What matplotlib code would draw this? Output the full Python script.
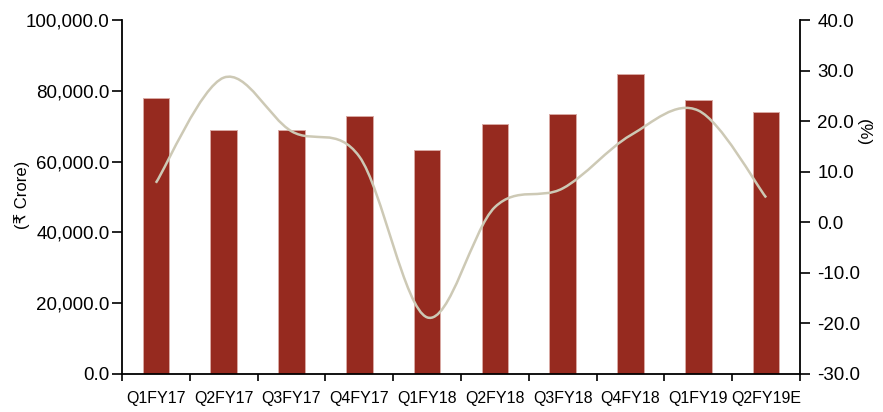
import numpy as np
import matplotlib
matplotlib.use('Agg')
import matplotlib.pyplot as plt
from matplotlib.path import Path
from matplotlib.patches import PathPatch
from matplotlib.ticker import FuncFormatter, FixedLocator

plt.rcParams['font.family'] = ['Liberation Sans Narrow', 'Liberation Sans', 'DejaVu Sans']

quarters = ["Q1FY17", "Q2FY17", "Q3FY17", "Q4FY17", "Q1FY18",
            "Q2FY18", "Q3FY18", "Q4FY18", "Q1FY19", "Q2FY19E"]
revenue = [77900, 68900, 68900, 72800, 63300, 70500, 73400, 84700, 77300, 74000]
growth = [7.8, 28.6, 18.0, 13.0, -18.8, 3.0, 6.7, 17.2, 22.1, 4.9]

bar_color = '#962a1f'
line_color = '#cdc9b5'

fig = plt.figure(figsize=(8.83, 4.12), dpi=100)
ax = fig.add_axes([122/883, 38/412, 678/883, 354/412])
ax2 = ax.twinx()

x = np.arange(len(quarters))
ax.bar(x, revenue, width=0.39, color=bar_color, edgecolor='#d9a9a3', linewidth=0.7, zorder=2)
ax.set_xlim(-0.5, len(quarters) - 0.5)
ax.set_ylim(0, 100000)
ax.set_yticks(np.arange(0, 100001, 20000))
ax.yaxis.set_major_formatter(FuncFormatter(lambda v, p: f"{v:,.1f}"))
ax.set_xticks(x)
ax.set_xticklabels(quarters)
ax.xaxis.set_minor_locator(FixedLocator(np.arange(-0.5, len(quarters), 1.0)))
ax.tick_params(axis='x', which='major', length=0, pad=12.5, labelsize=11.5)
ax.tick_params(axis='x', which='minor', length=5, width=1.2, direction='out')
ax.tick_params(axis='y', length=7, width=1.2, direction='out', labelsize=13.5, pad=2)

# smooth line through the points (excel-like bezier smoothing)
gx = x.astype(float)
gy = np.array(growth, dtype=float)
px = np.concatenate([[gx[0]], gx, [gx[-1]]])
py = np.concatenate([[gy[0]], gy, [gy[-1]]])
verts = [(gx[0], gy[0])]
codes = [Path.MOVETO]
for i in range(len(gx) - 1):
    j = i + 1
    c1 = (px[j] + (px[j+1] - px[j-1]) / 6, py[j] + (py[j+1] - py[j-1]) / 6)
    c2 = (px[j+1] - (px[j+2] - px[j]) / 6, py[j+1] - (py[j+2] - py[j]) / 6)
    verts += [c1, c2, (gx[i+1], gy[i+1])]
    codes += [Path.CURVE4] * 3
ax2.add_patch(PathPatch(Path(verts, codes), facecolor='none', edgecolor=line_color, lw=1.8, zorder=3))
ax2.set_ylim(-30, 40)
ax2.set_yticks(np.arange(-30, 41, 10))
ax2.yaxis.set_major_formatter(FuncFormatter(lambda v, p: f"{v:.1f}"))
ax2.tick_params(axis='y', length=7, width=1.2, direction='out', labelsize=13.5, pad=5.5)

for a in (ax, ax2):
    for s in a.spines.values():
        s.set_visible(False)
for side in ('left', 'bottom'):
    ax.spines[side].set_visible(True)
    ax.spines[side].set_linewidth(1.3)
ax2.spines['right'].set_visible(True)
ax2.spines['right'].set_linewidth(1.3)

fig.text(22/883, 1 - 195/412, "(₹ Crore)", rotation=90, ha='center', va='center', fontsize=12)
fig.text(863/883, 1 - 133/412, "(%)", rotation=270, ha='center', va='center', fontsize=12.5)

fig.savefig('out.png', dpi=100)
